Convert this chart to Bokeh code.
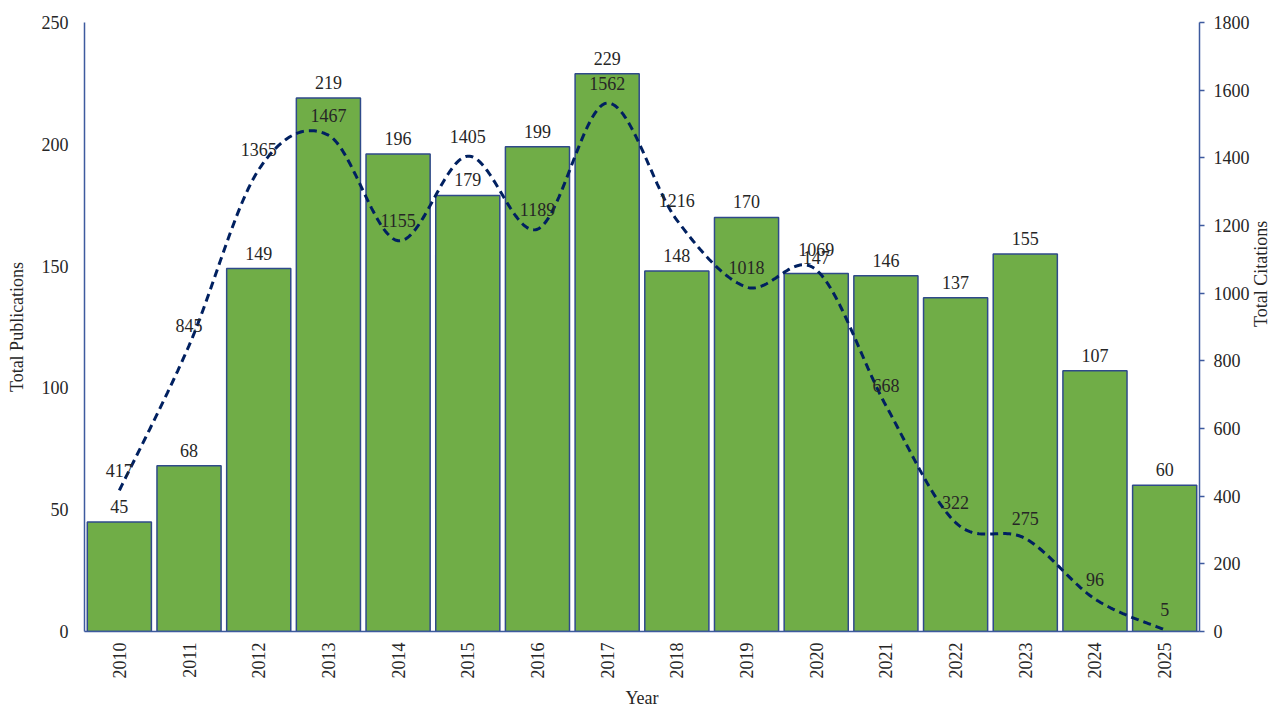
import numpy as np
from bokeh.plotting import figure
from bokeh.models import Range1d, LinearAxis, FixedTicker, ColumnDataSource
from bokeh.embed import file_html
from bokeh.resources import INLINE
from bokeh.core.properties import value

# ---- data ----
years = [2010, 2011, 2012, 2013, 2014, 2015, 2016, 2017,
         2018, 2019, 2020, 2021, 2022, 2023, 2024, 2025]
publications = [45, 68, 149, 219, 196, 179, 199, 229,
                148, 170, 147, 146, 137, 155, 107, 60]
citations = [417, 845, 1365, 1467, 1155, 1405, 1189, 1562,
             1216, 1018, 1069, 668, 322, 275, 96, 5]
pub_ticks = [0, 50, 100, 150, 200, 250]
cit_ticks = [0, 200, 400, 600, 800, 1000, 1200, 1400, 1600, 1800]

FONT = "Liberation Serif"
TXT = "#262626"
AXIS = "#3D5A9E"
BAR_FILL = "#70AD47"
BAR_LINE = "#2F4A8A"
LINE = "#002060"
FS = "18px"


def smooth(xs, ys, n=40):
    """Bezier smoothing through the points (Excel-style smoothed line)."""
    x = np.asarray(xs, float)
    y = np.asarray(ys, float)
    px = np.concatenate([[x[0]], x, [x[-1]]])
    py = np.concatenate([[y[0]], y, [y[-1]]])
    ox, oy = [], []
    t = np.linspace(0, 1, n)
    for i in range(len(x) - 1):
        p0 = np.array([px[i], py[i]])
        p1 = np.array([px[i + 1], py[i + 1]])
        p2 = np.array([px[i + 2], py[i + 2]])
        p3 = np.array([px[i + 3], py[i + 3]])
        c1 = p1 + (p2 - p0) / 6.0
        c2 = p2 - (p3 - p1) / 6.0
        b = ((1 - t) ** 3)[:, None] * p1 + (3 * (1 - t) ** 2 * t)[:, None] * c1 \
            + (3 * (1 - t) * t ** 2)[:, None] * c2 + (t ** 3)[:, None] * p2
        if i > 0:
            b = b[1:]
        ox.extend(b[:, 0])
        oy.extend(b[:, 1])
    return ox, oy


src = ColumnDataSource(dict(
    year=years,
    pub=publications,
    cit=citations,
    pub_label=[str(v) for v in publications],
    cit_label=[str(v) for v in citations],
))

p = figure(width=1283, height=710, output_backend="svg", toolbar_location=None,
           x_range=Range1d(years[0] - 0.5, years[-1] + 0.5),
           y_range=Range1d(pub_ticks[0], pub_ticks[-1]),
           min_border_left=84, min_border_right=83,
           min_border_top=22, min_border_bottom=78)
p.extra_y_ranges = {"cit": Range1d(cit_ticks[0], cit_ticks[-1])}
p.xgrid.visible = False
p.ygrid.visible = False
p.outline_line_color = None
p.background_fill_color = "white"
p.border_fill_color = "white"

# left axis
ly = p.yaxis[0]
ly.ticker = FixedTicker(ticks=pub_ticks)
ly.major_tick_out = 0
ly.major_tick_in = 0
ly.minor_tick_out = 0
ly.minor_tick_in = 0
ly.axis_line_color = AXIS
ly.axis_line_width = 1.5
ly.major_label_standoff = 16
ly.major_label_text_font = FONT
ly.major_label_text_font_size = FS
ly.major_label_text_color = TXT
ly.axis_label = "Total Publications"
ly.axis_label_text_font = FONT
ly.axis_label_text_font_size = FS
ly.axis_label_text_font_style = "normal"
ly.axis_label_text_color = TXT
ly.axis_label_standoff = 12

# bottom axis
bx = p.xaxis[0]
bx.ticker = FixedTicker(ticks=years)
bx.major_label_overrides = {y: str(y) for y in years}
bx.major_label_orientation = np.pi / 2
bx.major_tick_out = 0
bx.major_tick_in = 0
bx.minor_tick_out = 0
bx.minor_tick_in = 0
bx.axis_line_color = AXIS
bx.axis_line_width = 1.5
bx.major_label_standoff = 11
bx.major_label_text_font = FONT
bx.major_label_text_font_size = FS
bx.major_label_text_color = TXT
bx.axis_label = "Year"
bx.axis_label_text_font = FONT
bx.axis_label_text_font_size = FS
bx.axis_label_text_font_style = "normal"
bx.axis_label_text_color = TXT
bx.axis_label_standoff = 6

# right axis
ry = LinearAxis(y_range_name="cit", ticker=FixedTicker(ticks=cit_ticks))
ry.major_tick_out = 5
ry.major_tick_in = 0
ry.minor_tick_out = 0
ry.minor_tick_in = 0
ry.axis_line_color = AXIS
ry.axis_line_width = 1.5
ry.major_tick_line_color = AXIS
ry.major_tick_line_width = 1.5
ry.major_label_standoff = 9
ry.major_label_text_font = FONT
ry.major_label_text_font_size = FS
ry.major_label_text_color = TXT
ry.axis_label = "Total Citations"
ry.axis_label_text_font = FONT
ry.axis_label_text_font_size = FS
ry.axis_label_text_font_style = "normal"
ry.axis_label_text_color = TXT
ry.axis_label_standoff = 8
ry.axis_label_orientation = np.pi / 2
p.add_layout(ry, "right")

# bars
p.vbar(x="year", top="pub", width=0.92, source=src,
       fill_color=BAR_FILL, line_color=BAR_LINE, line_width=1.5)

# smoothed citations line
sx, sy = smooth(years, citations)
p.line(sx, sy, y_range_name="cit", line_color=LINE, line_width=3,
       line_dash="8 5")

# data labels
p.text(x="year", y="pub", text="pub_label", source=src,
       text_align="center", text_baseline="bottom", y_offset=-9,
       text_font=value(FONT), text_font_size=FS, text_color=TXT)
p.text(x="year", y="cit", text="cit_label", source=src, y_range_name="cit",
       text_align="center", text_baseline="middle", y_offset=-20,
       text_font=value(FONT), text_font_size=FS, text_color=TXT)

open("out.html", "w").write(file_html(p, INLINE))
